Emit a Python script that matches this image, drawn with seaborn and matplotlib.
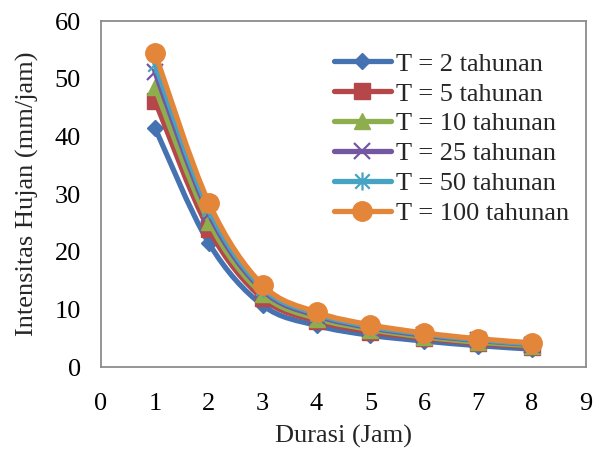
import matplotlib
matplotlib.use("Agg")
import matplotlib.pyplot as plt
import seaborn as sns
import numpy as np
import pandas as pd
from matplotlib.path import Path
from matplotlib.patches import PathPatch
from matplotlib.lines import Line2D

durasi = [1, 2, 3, 4, 5, 6, 7, 8]
T2 = [41.5, 21.5, 10.7, 7.2, 5.5, 4.5, 3.7, 3.1]
T5 = [46.2, 23.9, 11.9, 8.0, 6.1, 5.0, 4.1, 3.5]
T10 = [48.5, 25.2, 12.6, 8.4, 6.5, 5.2, 4.3, 3.7]
T25 = [51.2, 26.6, 13.3, 8.9, 6.8, 5.5, 4.6, 3.9]
T50 = [52.6, 27.4, 13.7, 9.2, 7.0, 5.7, 4.7, 4.0]
T100 = [54.5, 28.5, 14.2, 9.5, 7.3, 5.9, 4.9, 4.2]
labels = ["T = 2 tahunan", "T = 5 tahunan", "T = 10 tahunan",
          "T = 25 tahunan", "T = 50 tahunan", "T = 100 tahunan"]
xticks = list(range(0, 10))
yticks = list(range(0, 70, 10))

asterisk = Path([(-1, -1), (1, 1), (-1, 1), (1, -1), (0, -1.25), (0, 1.25)],
                [Path.MOVETO, Path.LINETO, Path.MOVETO, Path.LINETO,
                 Path.MOVETO, Path.LINETO])

series = [T2, T5, T10, T25, T50, T100]
colors = ["#4572B0", "#B5474A", "#8EAE4E", "#7357A0", "#45A3C3", "#E4863A"]
markers = ["D", "s", "^", "x", asterisk, "o"]
msizes = [8.5, 11, 12, 11, 13, 14]

sns.set_style("white")
plt.rcParams["font.family"] = ["Liberation Serif", "DejaVu Serif"]
FS = 19

fig = plt.figure(figsize=(6.01, 4.5), dpi=100)
ax = fig.add_axes([101 / 601, 1 - 367 / 450, (586 - 101) / 601, (367 - 21) / 450])

def smooth_path(x, y):
    x = np.asarray(x, float)
    y = np.asarray(y, float)
    n = len(x)
    verts = [(x[0], y[0])]
    codes = [Path.MOVETO]
    for i in range(n - 1):
        i0 = max(i - 1, 0)
        i3 = min(i + 2, n - 1)
        c1 = (x[i] + (x[i + 1] - x[i0]) / 6, y[i] + (y[i + 1] - y[i0]) / 6)
        c2 = (x[i + 1] - (x[i3] - x[i]) / 6, y[i + 1] - (y[i3] - y[i]) / 6)
        verts += [c1, c2, (x[i + 1], y[i + 1])]
        codes += [Path.CURVE4] * 3
    return Path(verts, codes)

handles = []
for k, (vals, c, m, ms, lab) in enumerate(zip(series, colors, markers, msizes, labels)):
    z = 2 + k
    patch = PathPatch(smooth_path(durasi, vals), facecolor="none", edgecolor=c,
                      lw=3.8, capstyle="round", joinstyle="round", zorder=z)
    ax.add_patch(patch)
    df = pd.DataFrame({"x": durasi, "y": vals})
    line_marker = k in (3, 4)
    mew = 1.6 if line_marker else 1.0
    mfc = "none" if line_marker else c
    sns.lineplot(data=df, x="x", y="y", ax=ax, marker=m, markersize=ms, linestyle="",
                 color=c, markeredgecolor=c, markerfacecolor=mfc,
                 markeredgewidth=mew, zorder=z + 0.5)
    handles.append(Line2D([], [], color=c, lw=3.8, marker=m, markersize=ms,
                          markeredgecolor=c, markerfacecolor=mfc,
                          markeredgewidth=mew, solid_capstyle="round"))

ax.set_xlim(0, 9)
ax.set_ylim(0, 60)
ax.set_xticks(xticks)
ax.set_yticks(yticks)
ax.tick_params(axis="both", length=0, labelsize=FS, colors="black")
ax.tick_params(axis="x", pad=18.5)
ax.tick_params(axis="y", pad=14.5)
ax.set_xlabel("Durasi (Jam)", fontsize=FS, labelpad=7)
ax.set_ylabel("Intensitas Hujan (mm/jam)", fontsize=FS, labelpad=11)
for s in ax.spines.values():
    s.set_color("#8C8C8C")
    s.set_linewidth(1.3)
ax.grid(False)

leg = ax.legend(handles, labels, loc="upper left", bbox_to_anchor=(0.48, 0.91),
                frameon=False, fontsize=FS, handlelength=2.15, handletextpad=0.2,
                labelspacing=0.245, borderaxespad=0, borderpad=0)

fig.savefig("out.png", dpi=100)
